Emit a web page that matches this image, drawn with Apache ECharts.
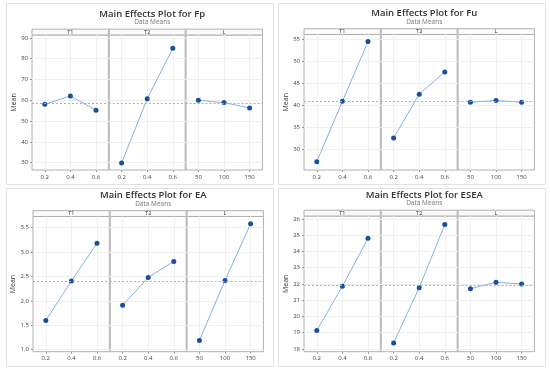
<!DOCTYPE html>
<html><head><meta charset="utf-8">
<script src="https://cdn.jsdelivr.net/npm/echarts@6/dist/echarts.min.js"></script>
<style>html,body{margin:0;padding:0;background:#fff}#c{width:550px;height:372px}</style>
</head><body><div id="c"></div>
<script>
// ---- data ----
const factors = ['T1', 'T2', 'L'];
const levelsT = ['0.2', '0.4', '0.6'];
const levelsL = ['50', '100', '150'];
const fp_T1 = [58.1, 62.1, 55.2];
const fp_T2 = [29.9, 60.7, 85.0];
const fp_L  = [60.0, 58.9, 56.3];
const fu_T1 = [27.1, 40.8, 54.4];
const fu_T2 = [32.5, 42.4, 47.5];
const fu_L  = [40.6, 41.0, 40.6];
const ea_T1 = [1.60, 2.41, 3.18];
const ea_T2 = [1.91, 2.48, 2.81];
const ea_L  = [1.19, 2.42, 3.58];
const esea_T1 = [19.13, 21.86, 24.81];
const esea_T2 = [18.37, 21.77, 25.65];
const esea_L  = [21.71, 22.10, 22.00];
const responses = ['Fp', 'Fu', 'EA', 'ESEA'];

// ---- layout ----
const panels = [
  {resp: 'Fp',   series: [fp_T1, fp_T2, fp_L],       yMin: 26.5, yMax: 91.4, split: 6, dec: 0, left: 32,  top: 35,  bottom: 170, card: [6, 3, 267, 181]},
  {resp: 'Fu',   series: [fu_T1, fu_T2, fu_L],       yMin: 25.2, yMax: 56.0, split: 6, dec: 0, left: 304, top: 34.5, bottom: 170, card: [278, 3, 267, 181]},
  {resp: 'EA',   series: [ea_T1, ea_T2, ea_L],       yMin: 0.96, yMax: 3.73, split: 6, dec: 1, left: 33,  top: 216.5, bottom: 351.7, card: [6, 188, 267, 178]},
  {resp: 'ESEA', series: [esea_T1, esea_T2, esea_L], yMin: 17.83, yMax: 26.18, split: 8, dec: 0, left: 304, top: 216, bottom: 351.7, card: [278, 188, 267, 178]}
];
const facetW = 76.8, stripH = 5.8;
const FONT = '"Open Sans", "Noto Sans", sans-serif';

const grid = [], xAxis = [], yAxis = [], series = [], title = [], graphic = [];
panels.forEach((p, pi) => {
  const c = p.card;
  graphic.push({type: 'rect', z: -10, shape: {x: c[0] + 0.5, y: c[1] + 0.5, width: c[2], height: c[3]},
    style: {fill: '#fff', stroke: '#e2e2e2', lineWidth: 1}});
  title.push({
    text: 'Main Effects Plot for ' + p.resp, subtext: 'Data Means',
    left: p.left + facetW * 1.5, top: p.top - 31, textAlign: 'center', itemGap: 0,
    textStyle: {fontFamily: FONT, fontSize: 9.5, fontWeight: 600, color: '#333'},
    subtextStyle: {fontFamily: FONT, fontSize: 6.5, color: '#777'}
  });
  const allMeans = p.series.map(s => s.reduce((a, b) => a + b, 0) / s.length);
  const grand = allMeans.reduce((a, b) => a + b, 0) / allMeans.length;
  p.series.forEach((vals, fi) => {
    const gi = grid.length;
    const gl = p.left + fi * facetW;
    grid.push({left: gl, top: p.top, width: facetW, height: p.bottom - p.top,
      show: true, borderColor: '#b0b0b0', borderWidth: 1, backgroundColor: 'transparent'});
    // facet strip
    graphic.push({type: 'rect', shape: {x: gl, y: p.top - stripH, width: facetW, height: stripH},
      style: {fill: '#fafafa', stroke: '#b0b0b0', lineWidth: 1}});
    graphic.push({type: 'text', x: gl + facetW / 2, y: p.top - stripH / 2,
      style: {text: factors[fi], fontFamily: FONT, fontSize: 5.5, fill: '#333', align: 'center', verticalAlign: 'middle'}});
    if (fi > 0) {
      graphic.push({type: 'line', shape: {x1: gl, y1: p.top - stripH, x2: gl, y2: p.bottom},
        style: {stroke: '#bdbdbd', lineWidth: 2}});
    }
    xAxis.push({gridIndex: gi, type: 'category', boundaryGap: true,
      data: fi < 2 ? levelsT : levelsL,
      axisLine: {show: false},
      axisTick: {show: true, alignWithLabel: true, length: 2, lineStyle: {color: '#999'}},
      axisLabel: {fontFamily: FONT, fontSize: 6, color: '#444', margin: 4},
      splitLine: {show: true, alignWithLabel: true, lineStyle: {color: '#f0f0f0', width: 1}}
    });
    yAxis.push({gridIndex: gi, type: 'value', min: p.yMin, max: p.yMax, splitNumber: p.split,
      axisLine: {show: false},
      axisTick: {show: fi === 0, length: 2, lineStyle: {color: '#999'}},
      axisLabel: {show: fi === 0, fontFamily: FONT, fontSize: 6, color: '#444', margin: 4,
        showMinLabel: false, showMaxLabel: false,
        formatter: (v) => v.toFixed(p.dec)},
      splitLine: {show: true, showMinLine: false, showMaxLine: false, lineStyle: {color: '#f0f0f0', width: 1}},
      name: fi === 0 ? 'Mean' : '', nameLocation: 'middle', nameGap: 13, nameRotate: 90,
      nameTextStyle: {fontFamily: FONT, fontSize: 7, color: '#333'}
    });
    series.push({type: 'line', xAxisIndex: gi, yAxisIndex: gi, data: vals,
      symbol: 'circle', symbolSize: 5,
      itemStyle: {color: '#1a4fa0'},
      lineStyle: {color: '#86b2e2', width: 1},
      z: 3,
      markLine: {silent: true, symbol: 'none', label: {show: false},
        lineStyle: {color: '#b0b0b0', type: [2, 2], width: 1},
        data: [{yAxis: grand}]}
    });
  });
});

const chart = echarts.init(document.getElementById('c'), null, {renderer: 'canvas'});
chart.setOption({animation: false, backgroundColor: '#fff', title, grid, xAxis, yAxis, series, graphic});
</script></body></html>
